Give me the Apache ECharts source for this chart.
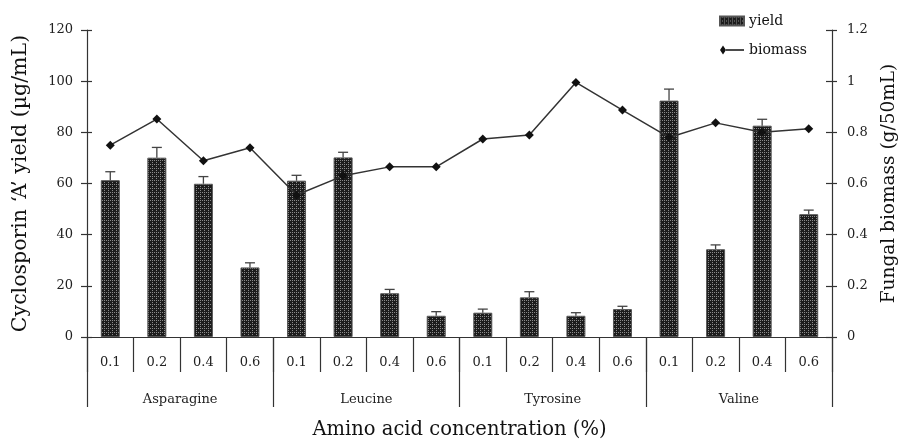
<!DOCTYPE html>
<html>
<head>
<meta charset="utf-8">
<script src="https://cdn.jsdelivr.net/npm/echarts@6/dist/echarts.min.js"></script>
<style>html,body{margin:0;padding:0;background:#fff}#c{width:909px;height:439px}</style>
</head>
<body>
<div id="c"></div>
<script>
var concentrations = ['0.1','0.2','0.4','0.6','0.1','0.2','0.4','0.6','0.1','0.2','0.4','0.6','0.1','0.2','0.4','0.6'];
var aminoAcids = ['Asparagine','Leucine','Tyrosine','Valine'];
var yieldValues = [61.3, 70.1, 59.9, 27.2, 61.1, 70.2, 17.1, 8.3, 9.5, 15.5, 8.3, 10.9, 92.4, 34.3, 82.6, 48.0];
var yieldErr = [3.3, 4.0, 2.8, 1.8, 2.1, 2.0, 1.5, 1.6, 1.4, 2.2, 1.2, 1.1, 4.5, 1.7, 2.5, 1.6];
var biomassValues = [0.75, 0.852, 0.689, 0.74, 0.555, 0.63, 0.665, 0.665, 0.774, 0.79, 0.995, 0.887, 0.78, 0.837, 0.80, 0.814];
var leftTicks = {min: 0, max: 120, interval: 20};
var rightTicks = {min: 0, max: 1.2, interval: 0.2};

var FONT = '"DejaVu Serif", "Liberation Serif", serif';
var AX = '#333';

// pattern for bars
var pc = document.createElement('canvas');
pc.width = 4; pc.height = 4;
var g = pc.getContext('2d');
g.fillStyle = '#1c1c1c'; g.fillRect(0,0,4,4);
g.fillStyle = '#8a8a8a';
g.fillRect(0,0,1,1); g.fillRect(2,0,1,1); g.fillRect(0,2,1,1);
var pattern = {image: pc, repeat: 'repeat'};

var chart = echarts.init(document.getElementById('c'), null, {renderer: 'canvas'});
var option = {
  animation: false,
  backgroundColor: '#fff',
  textStyle: {fontFamily: FONT},
  grid: {left: 87, right: 77, top: 30, bottom: 102, containLabel: false, outerBoundsMode: 'none'},
  legend: {
    orient: 'vertical', left: 714, top: 9, itemGap: 15, itemWidth: 24, itemHeight: 9,
    textStyle: {fontFamily: FONT, fontSize: 14, color: '#111'},
    data: [
      {name: 'yield', icon: 'rect'},
      {name: 'biomass', icon: 'path://M0,4.5L3,0L6,4.5L3,9ZM6,3.8L24,3.8L24,5.2L6,5.2Z', itemStyle: {color: '#111'}}
    ]
  },
  xAxis: [
    {
      type: 'category', data: concentrations, position: 'bottom', boundaryGap: true,
      axisLine: {show: true, lineStyle: {color: AX, width: 1.2}},
      axisTick: {show: true, length: 35, lineStyle: {color: AX, width: 1.2}, alignWithLabel: false},
      axisLabel: {fontFamily: FONT, fontSize: 13, color: '#222', margin: 19, interval: 0}
    },
    {
      type: 'category', data: aminoAcids, position: 'bottom', boundaryGap: true,
      axisLine: {show: false},
      axisTick: {show: true, length: 70, lineStyle: {color: AX, width: 1.2}},
      axisLabel: {fontFamily: FONT, fontSize: 13, color: '#222', margin: 56, interval: 0},
      name: 'Amino acid concentration (%)', nameLocation: 'middle', nameGap: 83,
      nameTextStyle: {fontFamily: FONT, fontSize: 19.5, color: '#111'}
    }
  ],
  yAxis: [
    {
      type: 'value', position: 'left', min: leftTicks.min, max: leftTicks.max, interval: leftTicks.interval,
      splitLine: {show: false},
      axisLine: {show: true, lineStyle: {color: AX, width: 1.2}},
      axisTick: {show: true, length: 6, lineStyle: {color: AX, width: 1.2}},
      axisLabel: {fontFamily: FONT, fontSize: 13, color: '#222', margin: 14},
      name: 'Cyclosporin \u2018A\u2019 yield (\u00b5g/mL)', nameLocation: 'middle', nameGap: 56, nameRotate: 90,
      nameTextStyle: {fontFamily: FONT, fontSize: 20.5, color: '#111'}
    },
    {
      type: 'value', position: 'right', min: rightTicks.min, max: rightTicks.max, interval: rightTicks.interval,
      splitLine: {show: false},
      axisLine: {show: true, lineStyle: {color: AX, width: 1.2}},
      axisTick: {show: true, inside: true, length: 6, lineStyle: {color: AX, width: 1.2}},
      axisLabel: {fontFamily: FONT, fontSize: 13, color: '#222', margin: 15},
      name: 'Fungal biomass (g/50mL)', nameLocation: 'middle', nameGap: 48, nameRotate: 90,
      nameTextStyle: {fontFamily: FONT, fontSize: 18.5, color: '#111'}
    },
    {
      type: 'value', position: 'left', min: leftTicks.min, max: leftTicks.max, interval: leftTicks.interval,
      splitLine: {show: false}, axisLine: {show: false},
      axisTick: {show: true, inside: true, length: 5, lineStyle: {color: AX, width: 1.2}},
      axisLabel: {show: false}
    },
    {
      type: 'value', position: 'right', min: rightTicks.min, max: rightTicks.max, interval: rightTicks.interval,
      splitLine: {show: false}, axisLine: {show: false},
      axisTick: {show: true, inside: false, length: 5, lineStyle: {color: AX, width: 1.2}},
      axisLabel: {show: false}
    }
  ],
  series: [
    {
      name: 'yield', type: 'bar', xAxisIndex: 0, yAxisIndex: 0, data: yieldValues, barWidth: 19,
      itemStyle: {color: pattern, borderColor: '#555', borderWidth: 1},
      z: 2
    },
    {
      name: 'err', type: 'custom', xAxisIndex: 0, yAxisIndex: 0,
      data: yieldValues.map(function(v, i){ return [i, v, yieldErr[i]]; }),
      renderItem: function(params, api){
        var i = api.value(0), v = api.value(1), e = api.value(2);
        var p0 = api.coord([i, v]);
        var p1 = api.coord([i, v + e]);
        var style = {stroke: '#444', lineWidth: 1.3};
        return {type: 'group', children: [
          {type: 'line', shape: {x1: p0[0], y1: p0[1], x2: p1[0], y2: p1[1]}, style: style},
          {type: 'line', shape: {x1: p1[0]-5, y1: p1[1], x2: p1[0]+5, y2: p1[1]}, style: style}
        ]};
      },
      z: 3, silent: true
    },
    {
      name: 'biomass', type: 'line', xAxisIndex: 0, yAxisIndex: 1, data: biomassValues,
      symbol: 'diamond', symbolSize: 9,
      lineStyle: {color: '#333', width: 1.5},
      itemStyle: {color: '#111'},
      z: 4
    }
  ]
};
chart.setOption(option);
</script>
</body>
</html>
